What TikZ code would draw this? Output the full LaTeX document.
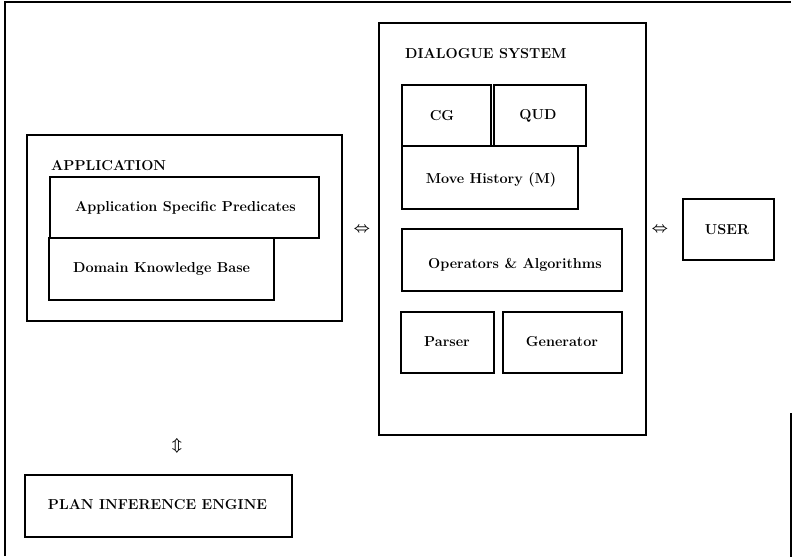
\documentclass[tikz,border=0pt]{standalone}
\usepackage{amssymb}
\begin{document}
\begin{tikzpicture}[x=1pt,y=-1pt,
  box/.style={draw,line width=1.2pt},
  lbl/.style={font=\fontsize{14.4}{16}\selectfont\bfseries, inner sep=0pt},
  arr/.style={font=\fontsize{14.4}{16}\selectfont\boldmath, inner sep=0pt}]
\useasboundingbox (0,0) rectangle (793,557);
% outer frame
\draw[line width=1.2pt] (5,556) -- (5,2) -- (791,2);
\draw[line width=1.2pt] (791,413) -- (791,557);

% application block
\draw[box] (27,135) rectangle (342,321);
\node[lbl,anchor=west] (applbl) at (51,166) {APPLICATION};
\draw[box] (50,177) rectangle (319,238);
\node[lbl,anchor=west] (asp) at (75,208) {Application Specific Predicates};
\draw[box] (49,238) rectangle (274,300);
\node[lbl,anchor=west] (dkb) at (73,269) {Domain Knowledge Base};

% dialogue system block
\draw[box] (379,23) rectangle (646,435);
\node[lbl,anchor=west] (dslbl) at (405,54) {DIALOGUE SYSTEM};
\draw[box] (402,85) rectangle (491,146);
\node[lbl] (cg) at (442,116) {CG};
\draw[box] (494,85) rectangle (586,146);
\node[lbl] (qud) at (538,116) {QUD};
\draw[box] (402,146) rectangle (578,209);
\node[lbl] (mh) at (491,180) {Move History (M)};
\draw[box] (402,229) rectangle (622,291);
\node[lbl] (ops) at (515,265) {Operators \& Algorithms};
\draw[box] (401,312) rectangle (494,373);
\node[lbl] (par) at (447,342) {Parser};
\draw[box] (503,312) rectangle (622,373);
\node[lbl] (gen) at (562,342) {Generator};

% user
\draw[box] (683,199) rectangle (774,260);
\node[lbl] (user) at (727,230) {USER};

% plan inference engine
\draw[box] (25,475) rectangle (292,537);
\node[lbl] (pie) at (157.5,505) {PLAN INFERENCE ENGINE};

% links between components
\node[arr] (a1) at (362,230) {$\Leftrightarrow$};
\node[arr] (a2) at (660,230) {$\Leftrightarrow$};
\node[arr] (a3) at (177,446) {$\Updownarrow$};
\end{tikzpicture}
\end{document}
